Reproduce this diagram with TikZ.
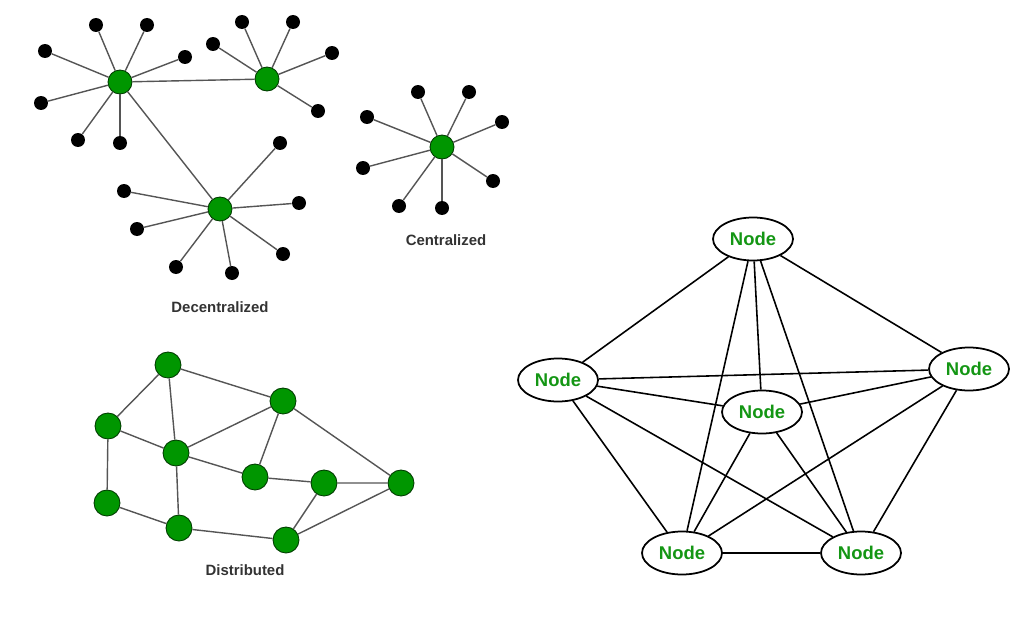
\documentclass[tikz,border=0pt]{standalone}
\usepackage{fontspec}
\setmainfont{Liberation Sans}
\usetikzlibrary{shapes.geometric}

\definecolor{hubgreen}{RGB}{0,150,0}
\definecolor{textgreen}{RGB}{20,150,20}
\definecolor{edgegray}{RGB}{85,85,85}

\tikzset{
  hub/.style={draw=black!60!hubgreen, fill=hubgreen, circle, inner sep=0pt, minimum size=0.48cm, line width=0.5pt},
  peer/.style={hub, minimum size=0.52cm},
  leaf/.style={fill=black, circle, inner sep=0pt, minimum size=0.28cm},
  link/.style={draw=edgegray, line width=0.8pt},
  caption/.style={font=\bfseries\fontsize{8.5}{10}\selectfont, text=black!80},
  mesh/.style={draw, ellipse, line width=1pt, inner sep=0pt, minimum width=1.6cm, minimum height=0.86cm,
    font=\bfseries\fontsize{10.5}{12}\selectfont, text=textgreen}
}

\begin{document}
\begin{tikzpicture}[x=0.02cm, y=-0.02cm]
  \useasboundingbox (0,0) rectangle (1020,642);

  % decentralized
  \node[hub] (A) at (120,82) {};
  \node[hub] (B) at (267,79) {};
  \node[hub] (C) at (220,209) {};
  \draw[link] (A) -- (B);
  \draw[link] (A) -- (C);
  \foreach \p [count=\i] in {(96,25),(147,25),(45,51),(185,57),(41,103),(78,140),(120,143)}
  {
    \node[leaf] (a\i) at \p {};
    \draw[link] (A) -- (a\i);
  }
  \foreach \p [count=\i] in {(242,22),(293,22),(213,44),(332,53),(318,111)}
  {
    \node[leaf] (b\i) at \p {};
    \draw[link] (B) -- (b\i);
  }
  \foreach \p [count=\i] in {(280,143),(124,191),(299,203),(137,229),(283,254),(176,267),(232,273)}
  {
    \node[leaf] (c\i) at \p {};
    \draw[link] (C) -- (c\i);
  }
  \node[caption] (decl) at (220,307) {Decentralized};

  % centralized
  \node[hub] (S) at (442,147) {};
  \foreach \p [count=\i] in {(418,92),(469,92),(367,117),(502,122),(363,168),(493,181),(399,206),(442,208)}
  {
    \node[leaf] (s\i) at \p {};
    \draw[link] (S) -- (s\i);
  }
  \node[caption] (cenl) at (446,240) {Centralized};

  % distributed
  \node[peer] (D1) at (168,365) {};
  \node[peer] (D2) at (283,401) {};
  \node[peer] (D3) at (108,426) {};
  \node[peer] (D4) at (176,453) {};
  \node[peer] (D5) at (255,477) {};
  \node[peer] (D6) at (324,483) {};
  \node[peer] (D7) at (401,483) {};
  \node[peer] (D8) at (107,503) {};
  \node[peer] (D9) at (179,528) {};
  \node[peer] (D10) at (286,540) {};

  \draw[link] (D3) -- (D1) -- (D2) -- (D7) -- (D10) -- (D9) -- (D8) -- (D3) -- (D4) -- (D2) -- (D5) -- (D6) -- (D7);
  \draw[link] (D1) -- (D4) -- (D9);
  \draw[link] (D4) -- (D5);
  \draw[link] (D6) -- (D10);
  \node[caption] (disl) at (245,570) {Distributed};

  % fully connected
  \node[mesh] (T) at (753,239) {Node};
  \node[mesh] (L) at (558,380) {Node};
  \node[mesh] (R) at (969,369) {Node};
  \node[mesh] (M) at (762,412) {Node};
  \node[mesh] (P) at (682,553) {Node};
  \node[mesh] (Q) at (861,553) {Node};

  \foreach \u/\v in {T/L,T/R,T/M,T/P,T/Q,L/R,L/M,L/P,L/Q,R/M,R/P,R/Q,M/P,M/Q,P/Q}
    \draw[line width=0.9pt] (\u) -- (\v);
\end{tikzpicture}
\end{document}
